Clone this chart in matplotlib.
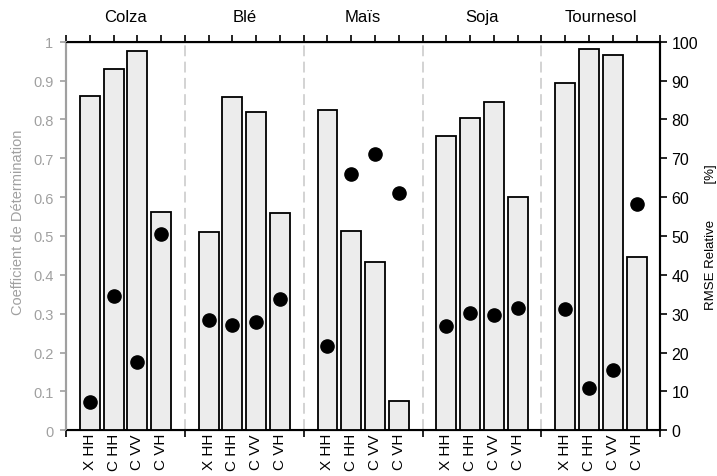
import numpy as np
import matplotlib.pyplot as plt

plt.rcParams['font.family'] = ['Liberation Sans', 'DejaVu Sans']

cultures = ["Colza", "Blé", "Maïs", "Soja", "Tournesol"]
configs = ["X HH", "C HH", "C VV", "C VH"]

# coefficient de determination (barres, axe gauche)
r2 = [
    [0.86, 0.93, 0.975, 0.562],
    [0.51, 0.858, 0.82, 0.56],
    [0.825, 0.513, 0.433, 0.075],
    [0.758, 0.804, 0.845, 0.601],
    [0.893, 0.98, 0.965, 0.445],
]
# RMSE relative en % (points, axe droit)
rmse = [
    [7.4, 34.6, 17.7, 50.4],
    [28.4, 27.0, 27.9, 33.9],
    [21.7, 66.0, 71.2, 61.1],
    [26.8, 30.3, 29.7, 31.6],
    [31.2, 11.0, 15.4, 58.2],
]

grey = '#a0a0a0'
ngroup = len(cultures)
slot = len(configs) + 1

pos = []
labels = []
for g in range(ngroup):
    for i, c in enumerate(configs):
        pos.append(g * slot + i + 1)
        labels.append(c)
pos = np.array(pos)
r2_flat = np.array(r2).ravel()
rmse_flat = np.array(rmse).ravel()

fig = plt.figure(figsize=(7.17, 4.77), dpi=100)
ax = fig.add_axes([0.092, 0.0958, 0.829, 0.8147])
ax.bar(pos, r2_flat, width=0.84, color='#ececec', edgecolor='black',
       linewidth=1.3, zorder=3)
for g in range(1, ngroup):
    ax.axvline(g * slot, color='#d0d0d0', linestyle=(0, (6, 3)), lw=1.3, zorder=1)

ax.set_xlim(0, ngroup * slot)
ax.set_ylim(0, 1)
ax.set_yticks(np.arange(0, 1.01, 0.1))
ax.set_yticklabels(['0'] + ['%.1f' % v for v in np.arange(0.1, 0.95, 0.1)] + ['1'])
ax.tick_params(axis='y', colors=grey, labelsize=10.5, length=4, width=1.2, pad=5)
ax.spines['left'].set_color(grey)
ax.spines['left'].set_linewidth(1.5)
for s in ['bottom', 'top', 'right']:
    ax.spines[s].set_linewidth(1.5)

# axe du bas : traits aux limites des groupes, libelles aux barres
ax.set_xticks(np.arange(0, ngroup * slot + 1, slot))
ax.set_xticklabels([])
ax.set_xticks(pos, minor=True)
ax.set_xticklabels(labels, minor=True, rotation=90, fontsize=11)
ax.tick_params(axis='x', which='major', length=5, width=1.2, direction='out')
ax.tick_params(axis='x', which='minor', length=0, pad=2)

# axe du haut : un trait par position
top = ax.secondary_xaxis('top')
top.set_xticks(np.arange(0, ngroup * slot + 1, 1))
top.set_xticklabels([])
top.tick_params(length=5, width=1.2)
for g, name in enumerate(cultures):
    ax.text(g * slot + slot / 2, 1.045, name, transform=ax.get_xaxis_transform(),
            ha='center', va='bottom', fontsize=12)

ax2 = ax.twinx()
ax2.plot(pos, rmse_flat, 'o', color='black', ms=9.5, zorder=5)
ax2.set_ylim(0, 100)
ax2.set_yticks(np.arange(0, 101, 10))
ax2.tick_params(axis='y', labelsize=11.5, length=5, width=1.2, pad=3)
ax2.spines['right'].set_linewidth(1.5)
ax2.spines['left'].set_color(grey)
ax2.spines['left'].set_linewidth(1.5)

fig.text(18 / 717, 1 - 222 / 477, 'Coefficient de Détermination', color=grey,
         fontsize=10.5, rotation=90, ha='center', va='center')
fig.text(711 / 717, 1 - 237 / 477, 'RMSE Relative          [%]',
         fontsize=9.5, rotation=90, ha='center', va='center')

fig.savefig('out.png', dpi=100)
